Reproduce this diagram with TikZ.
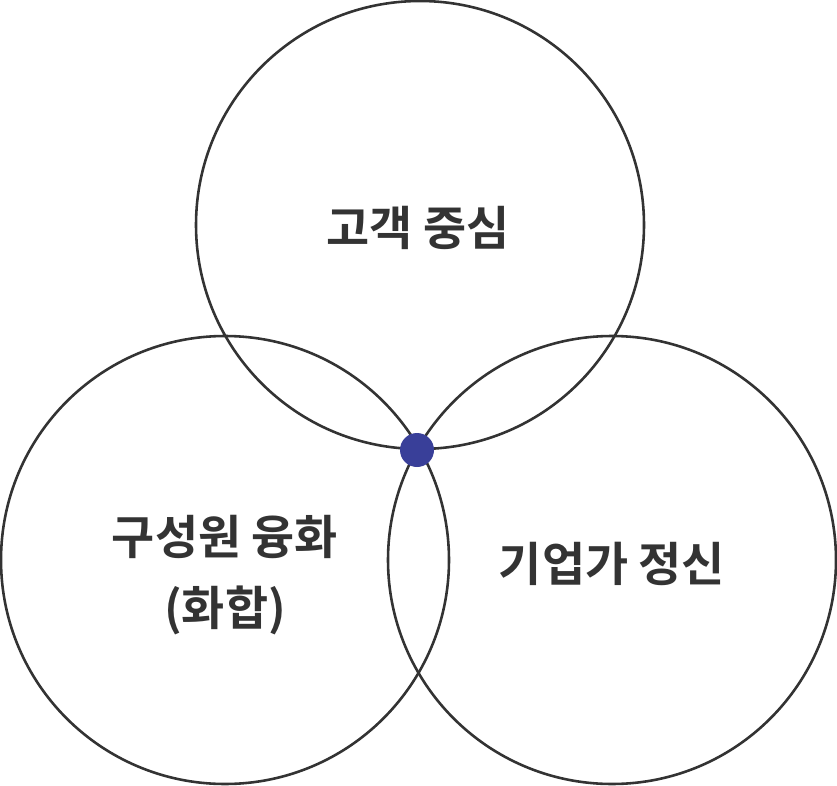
\documentclass[tikz,border=0pt]{standalone}
\usepackage{fontspec}
\newfontfamily\kofont{Noto Sans CJK KR Bold}
\definecolor{ring}{HTML}{333333}
\definecolor{hub}{HTML}{393F99}
\tikzset{
  ring/.style={draw=ring,line width=2.2pt,circle,minimum size=448*0.03cm,inner sep=0pt},
  label/.style={font=\kofont\fontsize{40}{61}\selectfont,text=ring,align=center}
}
\begin{document}
\begin{tikzpicture}[x=0.03cm,y=-0.03cm]
				\useasboundingbox (0,0) rectangle (837,786);
				
				% circles
				\node[ring] (top) at (420,225) {};
				\node[ring] (left) at (225,560) {};
				\node[ring] (right) at (612,560) {};
				
				% centre
				\fill[hub] (417,450) circle (17) coordinate (hub);
				
				% texts
				\node[label] (customer) at (418,228) {고객 중심};
				\node[label] (people) at (225,575) {구성원 융화\\(화합)};
				\node[label] (spirit) at (612,564) {기업가 정신};
\end{tikzpicture}
\end{document}
